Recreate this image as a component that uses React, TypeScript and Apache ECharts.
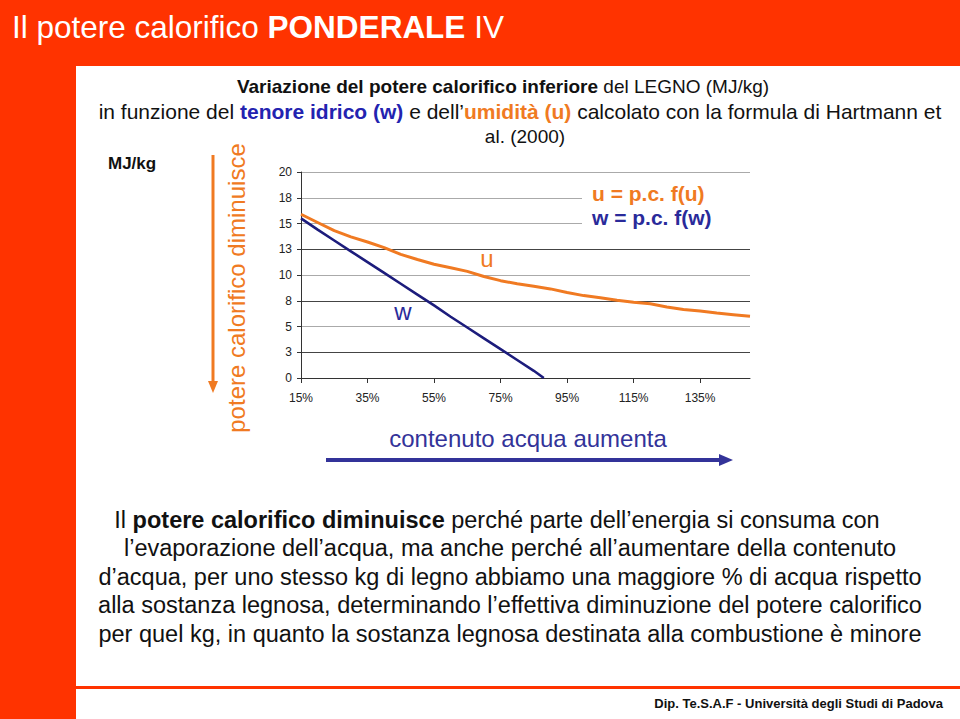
import React, { useEffect, useRef } from "react";
import * as echarts from "echarts";

// ---- data ----
const uPct = [15, 20, 25, 30, 35, 40, 45, 50, 55, 60, 65, 70, 75, 80, 85, 90, 95, 100, 105, 110, 115, 120, 125, 130, 135, 140, 145, 150];
const uVals = [15.9, 15.1, 14.3, 13.7, 13.2, 12.65, 12.0, 11.5, 11.05, 10.7, 10.35, 9.85, 9.45, 9.15, 8.9, 8.65, 8.3, 8.0, 7.8, 7.55, 7.35, 7.2, 6.9, 6.65, 6.5, 6.3, 6.15, 6.0];
const wPct = [15, 20, 25, 30, 35, 40, 45, 50, 55, 60, 65, 70, 75, 80, 85, 88];
const wVals = [15.5, 14.4, 13.35, 12.3, 11.25, 10.2, 9.15, 8.1, 7.05, 5.95, 4.9, 3.85, 2.8, 1.75, 0.7, 0];
const xTickValues = [15, 35, 55, 75, 95, 115, 135];
const xTickLabels = ["15%", "35%", "55%", "75%", "95%", "115%", "135%"];
const yTickLabels = ["0", "3", "5", "8", "10", "13", "15", "18", "20"];

const FONT = "'Liberation Sans', Arial, sans-serif";
const RED = "#FF3300";
const ORANGE = "#F07A22";
const NAVY = "#1C1C7C";
const NAVY_TXT = "#2A2A9A";
const BLUE_TXT = "#2323B0";

function txt(x: number, y: number, text: string, size: number, fill: string, opts: any = {}) {
  return {
    type: "text",
    x,
    y,
    z: 20,
    rotation: opts.rotation || 0,
    style: {
      text,
      fill,
      fontFamily: FONT,
      fontSize: size,
      fontWeight: opts.bold ? "bold" : "normal",
      textAlign: opts.align || "center",
      textVerticalAlign: "middle",
      rich: opts.rich,
    },
  };
}

function richSet(size: number) {
  return {
    n: { fontFamily: FONT, fontSize: size, fill: "#111" },
    b: { fontFamily: FONT, fontSize: size, fill: "#111", fontWeight: "bold" },
    bl: { fontFamily: FONT, fontSize: size, fill: BLUE_TXT, fontWeight: "bold" },
    or: { fontFamily: FONT, fontSize: size, fill: ORANGE, fontWeight: "bold" },
  };
}

export default function App() {
  const ref = useRef<HTMLDivElement>(null);
  useEffect(() => {
    if (!ref.current) return;
    const chart = echarts.init(ref.current, null, { renderer: "svg" });
    const richPara = richSet(23.5);
    const option: any = {
      animation: false,
      backgroundColor: "#ffffff",
      grid: { left: 301, top: 172, right: 210, bottom: 341, containLabel: false },
      xAxis: {
        type: "value",
        min: 15,
        max: 150,
        axisLine: { show: true, lineStyle: { color: "#333", width: 1 } },
        axisTick: { show: true, length: 5, lineStyle: { color: "#333" }, customValues: xTickValues },
        axisLabel: {
          customValues: xTickValues,
          formatter: (v: number) => xTickLabels[xTickValues.indexOf(v)] ?? "",
          color: "#222",
          fontFamily: FONT,
          fontSize: 12,
          margin: 14,
        },
        splitLine: { show: false },
      },
      yAxis: {
        type: "value",
        min: 0,
        max: 20,
        interval: 2.5,
        axisLine: { show: true, lineStyle: { color: "#333", width: 1 } },
        axisTick: { show: true, length: 4, lineStyle: { color: "#333" } },
        axisLabel: {
          formatter: (v: number) => yTickLabels[Math.round(v / 2.5)] ?? "",
          color: "#222",
          fontFamily: FONT,
          fontSize: 12,
          margin: 9,
        },
        splitLine: {
          show: true,
          lineStyle: {
            color: ["#444", "#444", "#aaa", "#444", "#aaa", "#444", "#aaa", "#aaa", "#aaa"],
            width: 1,
          },
        },
      },
      series: [
        {
          type: "line",
          name: "u",
          data: uPct.map((p, i) => [p, uVals[i]]),
          showSymbol: false,
          lineStyle: { color: ORANGE, width: 3 },
          itemStyle: { color: ORANGE },
          z: 3,
        },
        {
          type: "line",
          name: "w",
          data: wPct.map((p, i) => [p, wVals[i]]),
          showSymbol: false,
          lineStyle: { color: NAVY, width: 2.6 },
          itemStyle: { color: NAVY },
          z: 4,
        },
      ],
      graphic: [
        // frame
        { type: "rect", z: 1, shape: { x: 0, y: 0, width: 960, height: 66 }, style: { fill: RED } },
        { type: "rect", z: 1, shape: { x: 0, y: 0, width: 76, height: 719 }, style: { fill: RED } },
        { type: "rect", z: 1, shape: { x: 76, y: 686, width: 884, height: 3 }, style: { fill: RED } },
        // title
        txt(12, 27, "{n|Il potere calorifico }{b|PONDERALE}{n| IV}", 31.5, "#fff", {
          align: "left",
          rich: {
            n: { fontFamily: FONT, fontSize: 31.5, fill: "#fff" },
            b: { fontFamily: FONT, fontSize: 31.5, fill: "#fff", fontWeight: "bold" },
          },
        }),
        // subtitle
        txt(503, 86, "{b|Variazione del potere calorifico inferiore}{n| del LEGNO (MJ/kg)}", 19, "#111", { rich: richSet(19) }),
        txt(520, 111, "{n|in funzione del }{bl|tenore idrico (w)}{n| e dell’}{or|umidità (u)}{n| calcolato con la formula di Hartmann et}", 21, "#111", { rich: richSet(21) }),
        txt(525, 136, "{n|al. (2000)}", 19, "#111", { rich: richSet(19) }),
        // MJ/kg
        txt(108, 163, "MJ/kg", 17, "#111", { bold: true, align: "left" }),
        // vertical orange arrow and text
        { type: "line", z: 20, shape: { x1: 213, y1: 155, x2: 213, y2: 383 }, style: { stroke: ORANGE, lineWidth: 3 } },
        { type: "polygon", z: 20, shape: { points: [[208, 381], [218, 381], [213, 393]] }, style: { fill: ORANGE } },
        txt(236.5, 288, "potere calorifico diminuisce", 24, ORANGE, { rotation: Math.PI / 2 }),
        // legend box
        { type: "rect", z: 10, shape: { x: 582, y: 180, width: 175, height: 50 }, style: { fill: "#fff" } },
        txt(592, 193, "u = p.c. f(u)", 21, ORANGE, { bold: true, align: "left" }),
        txt(592, 217, "w = p.c. f(w)", 21, NAVY_TXT, { bold: true, align: "left" }),
        // curve labels
        txt(487, 258, "u", 24, ORANGE),
        txt(403, 311, "w", 24, NAVY_TXT),
        // x direction arrow
        txt(528, 438, "contenuto acqua aumenta", 24, "#333399"),
        { type: "line", z: 20, shape: { x1: 326, y1: 460, x2: 722, y2: 460 }, style: { stroke: "#333399", lineWidth: 4 } },
        { type: "polygon", z: 20, shape: { points: [[719, 454], [719, 466], [733, 460]] }, style: { fill: "#333399" } },
        // paragraph
        txt(497, 520, "{n|Il }{b|potere calorifico diminuisce}{n| perché parte dell’energia si consuma con}", 23.5, "#111", { rich: richPara }),
        txt(510, 548, "{n|l’evaporazione dell’acqua, ma anche perché all’aumentare della contenuto}", 23.5, "#111", { rich: richPara }),
        txt(510, 577, "{n|d’acqua, per uno stesso kg di legno abbiamo una maggiore % di acqua rispetto}", 23.5, "#111", { rich: richPara }),
        txt(510, 605, "{n|alla sostanza legnosa, determinando l’effettiva diminuzione del potere calorifico}", 23.5, "#111", { rich: richPara }),
        txt(510, 634, "{n|per quel kg, in quanto la sostanza legnosa destinata alla combustione è minore}", 23.5, "#111", { rich: richPara }),
        // footer
        txt(943, 703, "Dip. Te.S.A.F - Università degli Studi di Padova", 13, "#111", { bold: true, align: "right" }),
      ],
    };
    chart.setOption(option);
    return () => chart.dispose();
  }, []);
  return (
    <div
      ref={ref}
      style={{ position: "fixed", left: 0, top: 0, width: 960, height: 719, background: "#fff" }}
    />
  );
}
